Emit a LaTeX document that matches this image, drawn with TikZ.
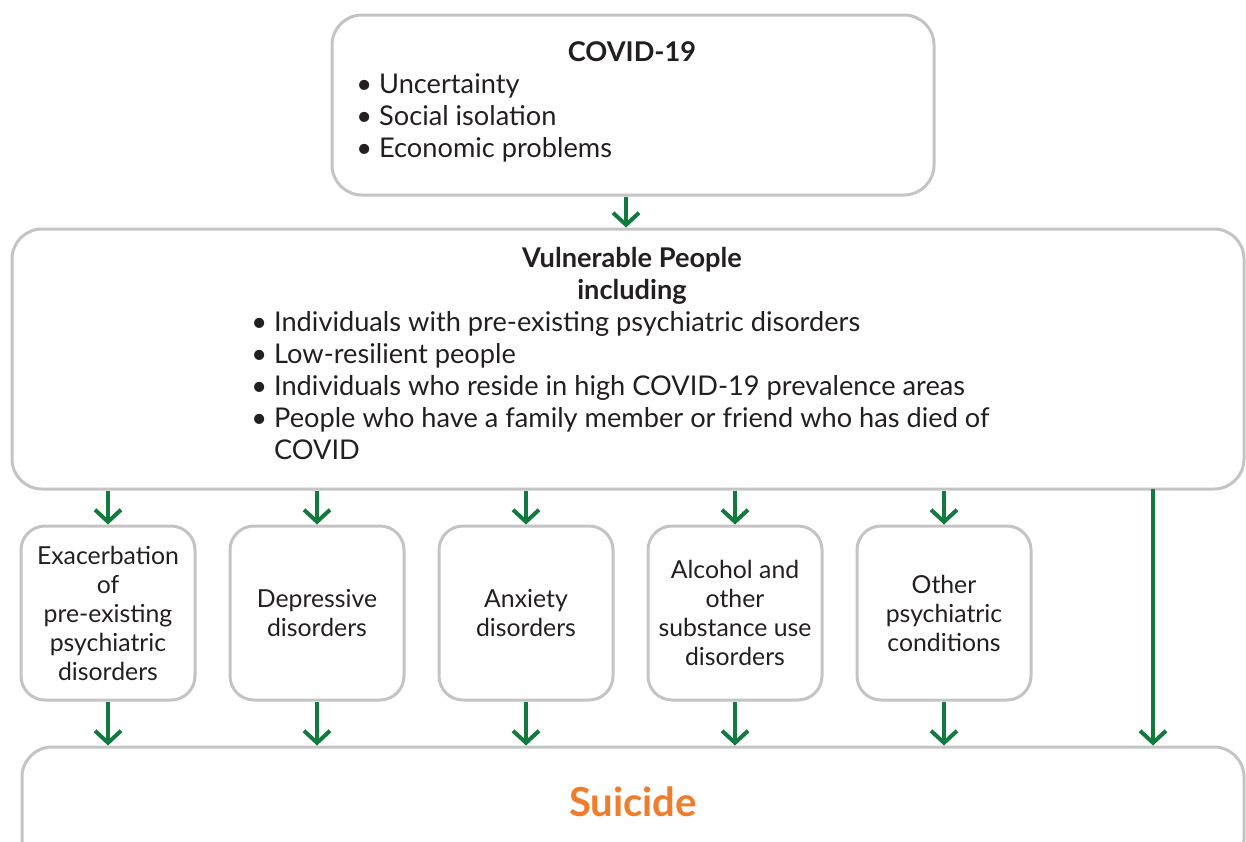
\documentclass[tikz,border=0pt]{standalone}
\usepackage{fontspec}
\setmainfont{Lato}
\usepackage{tikz}
\usetikzlibrary{arrows.meta}
\definecolor{boxgray}{HTML}{C4C4C4}
\definecolor{arrowgreen}{HTML}{127A3E}
\definecolor{suiorange}{HTML}{EF7D2B}
\definecolor{textgray}{HTML}{231F20}

\begin{document}
\begin{tikzpicture}[x=0.5pt,y=-0.5pt]
        \tikzset{box/.style = {shape=rectangle, draw=boxgray, line width=1.5pt, rounded corners=15pt}}
        \tikzset{small/.style = {box, rounded corners=12pt, minimum width=87pt, minimum height=87pt, align=center, text=textgray, font=\fontsize{12.4}{14.5}\selectfont}}
        \tikzset{arr/.style = {-{Straight Barb[length=6pt,width=13pt]}, line width=2pt, draw=arrowgreen}}
        \tikzset{title/.style = {font=\fontsize{13.6}{16}\selectfont\bfseries, text=textgray, align=center, anchor=base}}
        \tikzset{list/.style = {font=\fontsize{13.6}{16}\selectfont, text=textgray, align=left, anchor=base west, inner sep=0pt}}
        \useasboundingbox (0,0) rectangle (1246,841);
        \clip (0,0) rectangle (1246,841);
        % boxes
        \node[box, minimum width=301pt, minimum height=90pt] (cov) at (633,105) {};
        \node[box, minimum width=616pt, minimum height=130pt] (vul) at (628,359) {};
        \node[box, minimum width=611pt, minimum height=61pt] (sui) at (633,808) {};
        \node[small] (b1) at (108,613) {Exacerbation\\of\\pre-existing\\psychiatric\\disorders};
        \node[small] (b2) at (317,613) {Depressive\\disorders};
        \node[small] (b3) at (526,613) {Anxiety\\disorders};
        \node[small] (b4) at (735,613) {Alcohol and\\other\\substance use\\disorders};
        \node[small] (b5) at (944,613) {Other\\psychiatric\\conditions};
        
        % texts (anchored at the baseline of the last line)
        \node[title] (covtitle) at (632,61) {COVID-19};
        \node[list] (covlist) at (356,157) {• Uncertainty\\• Social isolation\\• Economic problems};
        \node[title] (vultitle) at (632,299) {Vulnerable People\\including};
        \node[list] (vullist) at (251,459) {• Individuals with pre-existing psychiatric disorders\\• Low-resilient people\\• Individuals who reside in high COVID-19 prevalence areas\\• People who have a family member or friend who has died of\\\hphantom{• }COVID};
        \node[font=\fontsize{20}{22}\selectfont\bfseries, text=suiorange] (suitext) at (633,802) {Suicide};
        
        % arrows
        \draw[arr] ([xshift=-3.5pt]cov.south) -- ([xshift=-3.5pt]cov.south |- vul.north);
        \draw[arr] (vul.south -| b1.north) -- (b1.north);
        \draw[arr] (vul.south -| b2.north) -- (b2.north);
        \draw[arr] (vul.south -| b3.north) -- (b3.north);
        \draw[arr] (vul.south -| b4.north) -- (b4.north);
        \draw[arr] (vul.south -| b5.north) -- (b5.north);
        \draw[arr] (b1.south) -- (b1.south |- sui.north);
        \draw[arr] (b2.south) -- (b2.south |- sui.north);
        \draw[arr] (b3.south) -- (b3.south |- sui.north);
        \draw[arr] (b4.south) -- (b4.south |- sui.north);
        \draw[arr] (b5.south) -- (b5.south |- sui.north);
        \coordinate (side) at (1153,489);
        \draw[arr] (side) -- (side |- sui.north);
\end{tikzpicture}
\end{document}
